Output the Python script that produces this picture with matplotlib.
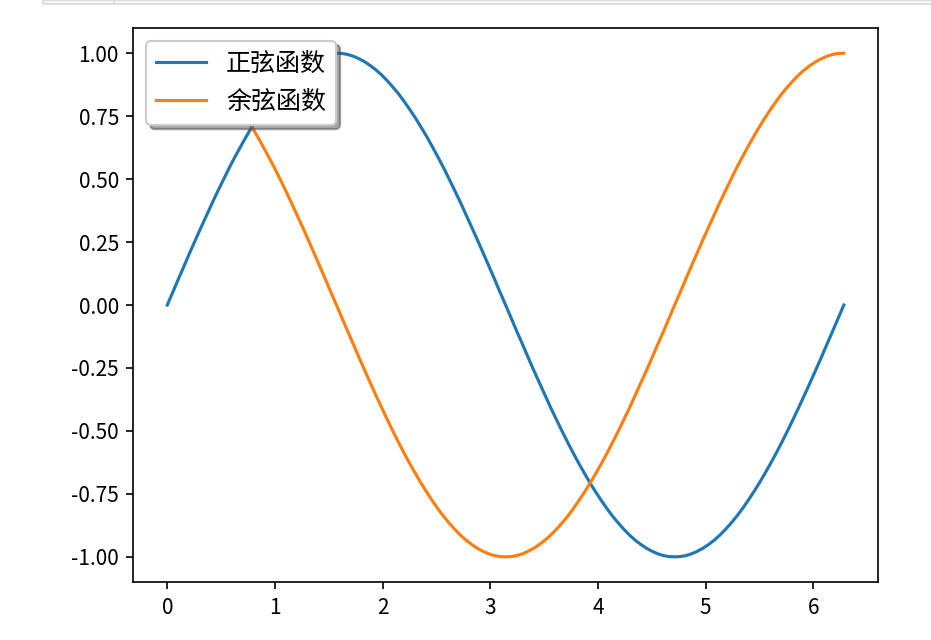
"""
Sine and cosine curves with a Chinese legend
"""

### Import modules
import numpy as np
import matplotlib
matplotlib.use('Agg')
import matplotlib.pyplot as plt
from matplotlib.patches import Rectangle
from matplotlib.lines import Line2D

### Data (121 samples over 0..2pi)
xvals = [0.000, 0.052, 0.105, 0.157, 0.209, 0.262, 0.314, 0.367, 0.419, 0.471,
         0.524, 0.576, 0.628, 0.681, 0.733, 0.785, 0.838, 0.890, 0.942, 0.995,
         1.047, 1.100, 1.152, 1.204, 1.257, 1.309, 1.361, 1.414, 1.466, 1.518,
         1.571, 1.623, 1.676, 1.728, 1.780, 1.833, 1.885, 1.937, 1.990, 2.042,
         2.094, 2.147, 2.199, 2.251, 2.304, 2.356, 2.409, 2.461, 2.513, 2.566,
         2.618, 2.670, 2.723, 2.775, 2.827, 2.880, 2.932, 2.985, 3.037, 3.089,
         3.142, 3.194, 3.246, 3.299, 3.351, 3.403, 3.456, 3.508, 3.560, 3.613,
         3.665, 3.718, 3.770, 3.822, 3.875, 3.927, 3.979, 4.032, 4.084, 4.136,
         4.189, 4.241, 4.294, 4.346, 4.398, 4.451, 4.503, 4.555, 4.608, 4.660,
         4.712, 4.765, 4.817, 4.869, 4.922, 4.974, 5.027, 5.079, 5.131, 5.184,
         5.236, 5.288, 5.341, 5.393, 5.445, 5.498, 5.550, 5.603, 5.655, 5.707,
         5.760, 5.812, 5.864, 5.917, 5.969, 6.021, 6.074, 6.126, 6.178, 6.231,
         6.283]

sinvals = [0.000, 0.052, 0.105, 0.156, 0.208, 0.259, 0.309, 0.358, 0.407, 0.454,
           0.500, 0.545, 0.588, 0.629, 0.669, 0.707, 0.743, 0.777, 0.809, 0.839,
           0.866, 0.891, 0.914, 0.934, 0.951, 0.966, 0.978, 0.988, 0.995, 0.999,
           1.000, 0.999, 0.995, 0.988, 0.978, 0.966, 0.951, 0.934, 0.914, 0.891,
           0.866, 0.839, 0.809, 0.777, 0.743, 0.707, 0.669, 0.629, 0.588, 0.545,
           0.500, 0.454, 0.407, 0.358, 0.309, 0.259, 0.208, 0.156, 0.105, 0.052,
           0.000, -0.052, -0.105, -0.156, -0.208, -0.259, -0.309, -0.358, -0.407,
           -0.454, -0.500, -0.545, -0.588, -0.629, -0.669, -0.707, -0.743, -0.777,
           -0.809, -0.839, -0.866, -0.891, -0.914, -0.934, -0.951, -0.966, -0.978,
           -0.988, -0.995, -0.999, -1.000, -0.999, -0.995, -0.988, -0.978, -0.966,
           -0.951, -0.934, -0.914, -0.891, -0.866, -0.839, -0.809, -0.777, -0.743,
           -0.707, -0.669, -0.629, -0.588, -0.545, -0.500, -0.454, -0.407, -0.358,
           -0.309, -0.259, -0.208, -0.156, -0.105, -0.052, 0.000]

cosvals = [1.000, 0.999, 0.995, 0.988, 0.978, 0.966, 0.951, 0.934, 0.914, 0.891,
           0.866, 0.839, 0.809, 0.777, 0.743, 0.707, 0.669, 0.629, 0.588, 0.545,
           0.500, 0.454, 0.407, 0.358, 0.309, 0.259, 0.208, 0.156, 0.105, 0.052,
           0.000, -0.052, -0.105, -0.156, -0.208, -0.259, -0.309, -0.358, -0.407,
           -0.454, -0.500, -0.545, -0.588, -0.629, -0.669, -0.707, -0.743, -0.777,
           -0.809, -0.839, -0.866, -0.891, -0.914, -0.934, -0.951, -0.966, -0.978,
           -0.988, -0.995, -0.999, -1.000, -0.999, -0.995, -0.988, -0.978, -0.966,
           -0.951, -0.934, -0.914, -0.891, -0.866, -0.839, -0.809, -0.777, -0.743,
           -0.707, -0.669, -0.629, -0.588, -0.545, -0.500, -0.454, -0.407, -0.358,
           -0.309, -0.259, -0.208, -0.156, -0.105, -0.052, 0.000, 0.052, 0.105,
           0.156, 0.208, 0.259, 0.309, 0.358, 0.407, 0.454, 0.500, 0.545, 0.588,
           0.629, 0.669, 0.707, 0.743, 0.777, 0.809, 0.839, 0.866, 0.891, 0.914,
           0.934, 0.951, 0.966, 0.978, 0.988, 0.995, 0.999, 1.000]

labels = ['正弦函数', '余弦函数']

### Fonts
plt.rcParams['font.family'] = ['Noto Sans CJK SC', 'DejaVu Sans']
plt.rcParams['axes.unicode_minus'] = False

### Create plot
fig = plt.figure(figsize=(932/150, 640/150), dpi=150)
ax = fig.add_axes([0.1432, 0.0906, 0.7985, 0.8656])

ax.plot(xvals, sinvals, label=labels[0])
ax.plot(xvals, cosvals, label=labels[1])

ax.set_xticks([0, 1, 2, 3, 4, 5, 6])
ax.set_yticks([-1.00, -0.75, -0.50, -0.25, 0.00, 0.25, 0.50, 0.75, 1.00])

ax.legend(loc='upper left', shadow=True, fancybox=True, fontsize=12)

### Notebook chrome along the top edge
bar = Rectangle((43/932, 1 - 4/640), 1.0, 4/640, transform=fig.transFigure,
                facecolor='#f5f5f5', edgecolor='#d9d9d9', linewidth=0.8,
                zorder=0)
fig.patches.append(bar)
fig.lines.append(Line2D([114/932, 114/932], [1 - 4/640, 1.0],
                        transform=fig.transFigure, color='#d9d9d9',
                        linewidth=0.8))

### Save figure
plt.savefig('out.png', dpi=150)
